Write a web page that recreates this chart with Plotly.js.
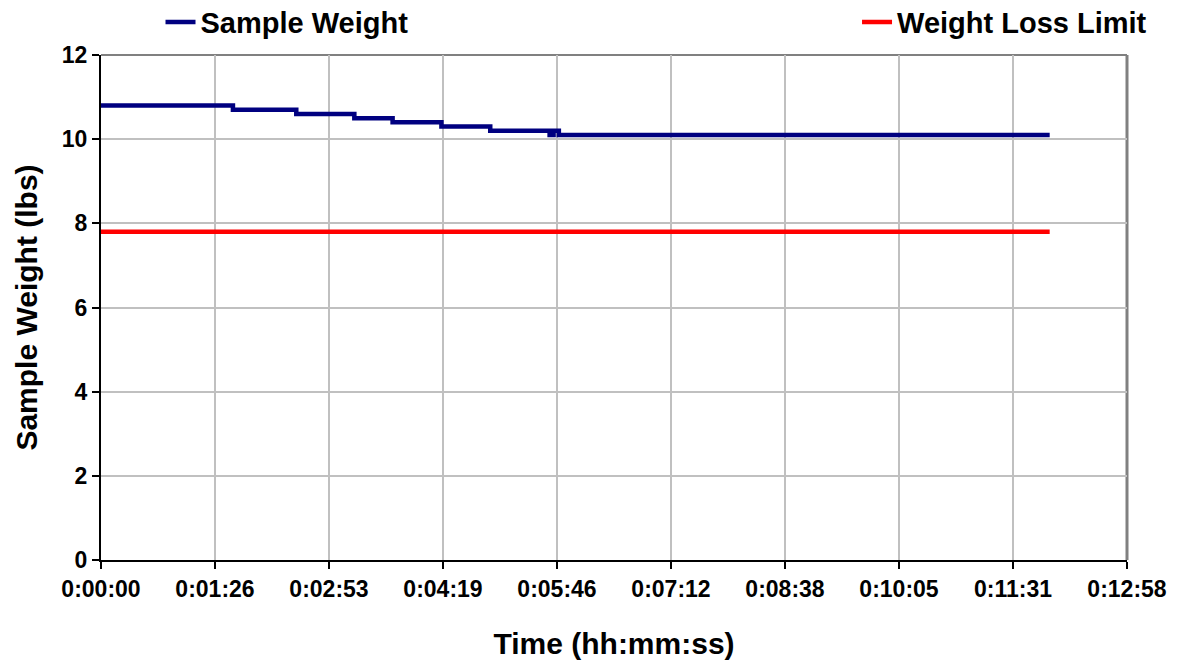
<!DOCTYPE html>
<html>
<head>
<meta charset="utf-8">
<script src="https://cdn.plot.ly/plotly-3.0.1.min.js"></script>
<style>html,body{margin:0;padding:0;background:#fff}#chart{width:1183px;height:662px}</style>
</head>
<body>
<div id="chart"></div>
<script>
// Time in seconds, weight in lbs (step changes)
const sampleTime   = [0,    100,  148,  192,  221,  258,  295,  340,  343,  347,  349,  719];
const sampleWeight = [10.8, 10.7, 10.6, 10.5, 10.4, 10.3, 10.2, 10.1, 10.2, 10.1, 10.1, 10.1];
const limitTime   = [0, 719];
const limitWeight = [7.8, 7.8];
const xTickVals = [0, 86.4, 172.8, 259.2, 345.6, 432, 518.4, 604.8, 691.2, 777.6];
const xTickText = ["0:00:00","0:01:26","0:02:53","0:04:19","0:05:46","0:07:12","0:08:38","0:10:05","0:11:31","0:12:58"];
const yTickVals = [0, 2, 4, 6, 8, 10, 12];

const FONT = "Liberation Sans, Arial, sans-serif";

const traces = [
  {x: sampleTime, y: sampleWeight, name: "Sample Weight", type: "scatter", mode: "lines",
   line: {color: "#000080", width: 4.5, shape: "hv"}, legend: "legend"},
  {x: limitTime, y: limitWeight, name: "Weight Loss Limit", type: "scatter", mode: "lines",
   line: {color: "#ff0000", width: 4.5}, legend: "legend2"}
];

const layout = {
  width: 1183, height: 662,
  margin: {l: 101, r: 56, t: 55, b: 102, autoexpand: false},
  paper_bgcolor: "#ffffff", plot_bgcolor: "#ffffff",
  font: {family: FONT, color: "#000"},
  showlegend: true,
  legend: {x: 0.058, y: 1.065, xanchor: "left", yanchor: "middle", bgcolor: "rgba(0,0,0,0)",
           font: {family: FONT, size: 29, weight: "bold", color: "#000"}},
  legend2: {x: 1.0244, y: 1.065, xanchor: "right", yanchor: "middle", bgcolor: "rgba(0,0,0,0)",
           font: {family: FONT, size: 29, weight: "bold", color: "#000"}},
  xaxis: {
    range: [0, 777.6], tickmode: "array", tickvals: xTickVals, ticktext: xTickText,
    showgrid: true, gridcolor: "#c0c0c0", gridwidth: 2,
    showline: true, linecolor: "#000", linewidth: 2,
    ticks: "outside", ticklen: 7, tickwidth: 2, tickcolor: "#000",
    tickfont: {family: FONT, size: 23, weight: "bold", color: "#000"},
    zeroline: false,
    title: {text: "Time (hh:mm:ss)", standoff: 32, font: {family: FONT, size: 30, weight: "bold", color: "#000"}}
  },
  yaxis: {
    range: [0, 12], tickmode: "array", tickvals: yTickVals,
    showgrid: true, gridcolor: "#c0c0c0", gridwidth: 2,
    showline: true, linecolor: "#000", linewidth: 2,
    ticks: "outside", ticklen: 7, tickwidth: 2, tickcolor: "#000",
    tickfont: {family: FONT, size: 23, weight: "bold", color: "#000"},
    zeroline: false,
    title: {text: "Sample Weight (lbs)", standoff: 15, font: {family: FONT, size: 30, weight: "bold", color: "#000"}}
  },
  shapes: [
    {type: "line", xref: "paper", yref: "paper", x0: 0, x1: 1, y0: 1, y1: 1, line: {color: "#808080", width: 2}, layer: "below"},
    {type: "line", xref: "paper", yref: "paper", x0: 1, x1: 1, y0: 0, y1: 1, line: {color: "#808080", width: 3}, layer: "below"}
  ]
};

Plotly.newPlot("chart", traces, layout, {displayModeBar: false, staticPlot: true});
</script>
</body>
</html>
